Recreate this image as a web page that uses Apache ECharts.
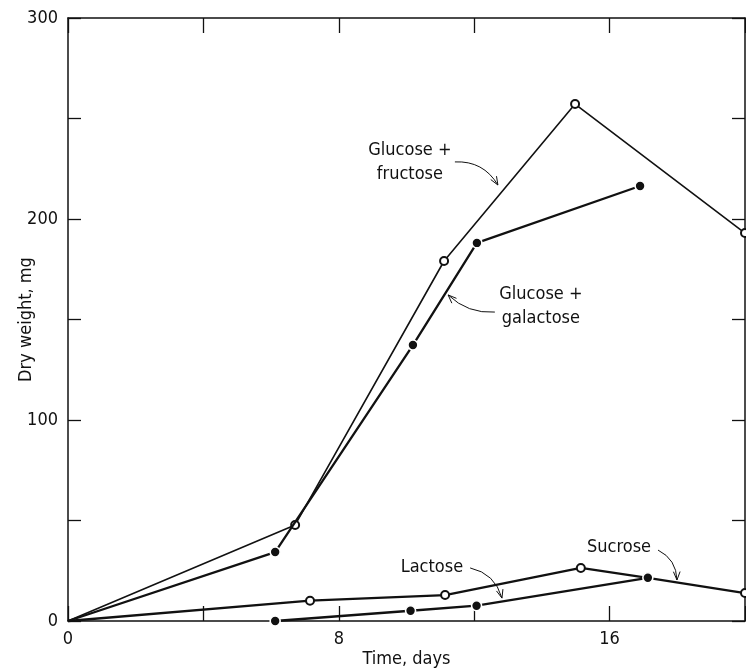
<!DOCTYPE html>
<html><head><meta charset="utf-8">
<script src="https://cdn.jsdelivr.net/npm/echarts@6/dist/echarts.min.js"></script>
<style>html,body{margin:0;padding:0;background:#fff}#c{width:746px;height:672px}</style>
</head><body><div id="c"></div>
<script>
// ---- data ----
const xTickLabels = [0, 8, 16];
const yTickLabels = [0, 100, 200, 300];
const fructose  = [[0,0],[6.71,47.8],[11.11,179.1],[14.98,257.2],[20,193.0]];
const galactose = [[0,0],[6.12,34.3],[10.19,137.3],[12.08,188.1],[16.9,216.4]];
const sucrose   = [[0,0],[7.15,10.1],[11.14,12.9],[15.15,26.4],[17.13,21.5],[20,13.9]];
const lactose   = [[6.12,0],[10.12,5.1],[12.07,7.6],[17.13,21.5]];
const labelNames = ['Glucose +\nfructose', 'Glucose +\ngalactose', 'Lactose', 'Sucrose'];
const labelAt    = [[10.1,228.4],[13.97,156.7],[10.75,26.9],[16.28,36.8]];
const arrowFrom  = [[11.43,228.4],[12.61,153.7],[11.88,26.4],[17.43,35.3]];
const arrowTo    = [[12.70,216.9],[11.23,162.2],[12.82,11.4],[17.99,20.4]];

// ---- styling ----
const INK = '#111';
const FONT = "'DejaVu Sans Condensed', 'Liberation Sans Narrow', 'DejaVu Sans', sans-serif";
const bends = [0.3, 0.22, 0.3, 0.3];

const chart = echarts.init(document.getElementById('c'), null, {renderer: 'canvas'});

function axisCommon(max, interval, tickLen) {
  return {
    type: 'value', min: 0, max: max, interval: interval,
    axisLine: {show: true, onZero: false, lineStyle: {color: INK, width: 1.5}},
    axisTick: {show: true, inside: true, length: tickLen, lineStyle: {color: INK, width: 1.3}},
    splitLine: {show: false}
  };
}

// the common origin point carries no marker in the reference
const noOriginMarker = arr => arr.map(p => (p[0] === 0 && p[1] === 0) ? {value: p, symbol: 'none'} : p);

const openSym = {symbol: 'emptyCircle', symbolSize: 8, itemStyle: {color: INK, borderColor: INK, borderWidth: 1.3}};
const fillSym = {symbol: 'circle', symbolSize: 10, itemStyle: {color: INK, borderColor: '#fff', borderWidth: 1.6}};

const arrowData = arrowFrom.map((p, i) => [p[0], p[1], arrowTo[i][0], arrowTo[i][1]]);

function renderArrow(params, api) {
  const i = params.dataIndex;
  const p0 = api.coord([api.value(0), api.value(1)]);
  const p1 = api.coord([api.value(2), api.value(3)]);
  const c = bends[i];
  const mx = (p0[0] + p1[0]) / 2, my = (p0[1] + p1[1]) / 2;
  const cp = [mx - (p0[1] - p1[1]) * c, my - (p1[0] - p0[0]) * c];
  const ang = Math.atan2(p1[1] - cp[1], p1[0] - cp[0]);
  const L = 9, spread = 0.38;
  const a1 = [p1[0] - L * Math.cos(ang - spread), p1[1] - L * Math.sin(ang - spread)];
  const a2 = [p1[0] - L * Math.cos(ang + spread), p1[1] - L * Math.sin(ang + spread)];
  return {
    type: 'group',
    children: [
      {type: 'bezierCurve', shape: {x1: p0[0], y1: p0[1], x2: p1[0], y2: p1[1], cpx1: cp[0], cpy1: cp[1]},
       style: {stroke: INK, lineWidth: 1, fill: null}},
      {type: 'polyline', shape: {points: [a1, p1, a2]}, style: {stroke: INK, lineWidth: 1, fill: null}}
    ]
  };
}

const option = {
  animation: false,
  backgroundColor: '#fff',
  grid: {left: 68, right: 1, top: 18, bottom: 51, containLabel: false, outerBoundsMode: 'none'},
  xAxis: [
    Object.assign(axisCommon(20, 4, 15), {
      position: 'bottom',
      axisLabel: {formatter: v => xTickLabels.includes(v) ? String(v) : '', margin: 9, fontSize: 18, color: INK, fontFamily: FONT},
      name: 'Time, days', nameLocation: 'middle', nameGap: 29, nameMoveOverlap: false,
      nameTextStyle: {fontSize: 18, color: INK, fontFamily: FONT}
    }),
    Object.assign(axisCommon(20, 4, 15), {position: 'top', axisLabel: {show: false}})
  ],
  yAxis: [
    Object.assign(axisCommon(300, 50, 13), {
      position: 'left',
      axisLabel: {formatter: v => yTickLabels.includes(v) ? String(v) : '', margin: 10, fontSize: 18, color: INK, fontFamily: FONT},
      name: 'Dry weight, mg', nameLocation: 'middle', nameGap: 33, nameRotate: 90, nameMoveOverlap: false,
      nameTextStyle: {fontSize: 18, color: INK, fontFamily: FONT}
    }),
    Object.assign(axisCommon(300, 50, 13), {position: 'right', axisLabel: {show: false}})
  ],
  series: [
    Object.assign({type: 'line', name: 'Glucose + fructose', data: noOriginMarker(fructose), z: 3,
      lineStyle: {color: INK, width: 1.6}, clip: false}, openSym),
    Object.assign({type: 'line', name: 'Glucose + galactose', data: noOriginMarker(galactose), z: 4,
      lineStyle: {color: INK, width: 2.3}, clip: false}, fillSym),
    Object.assign({type: 'line', name: 'Sucrose', data: noOriginMarker(sucrose), z: 3,
      lineStyle: {color: INK, width: 2.3}, clip: false}, openSym),
    Object.assign({type: 'line', name: 'Lactose', data: lactose, z: 5,
      lineStyle: {color: INK, width: 2.3}, clip: false}, fillSym),
    {
      type: 'custom', name: 'arrows', data: arrowData, renderItem: renderArrow,
      encode: {x: [0, 2], y: [1, 3]}, silent: true, clip: false, z: 6
    },
    {
      type: 'line', name: 'labels', data: [], silent: true, z: 6,
      markPoint: {
        silent: true, animation: false,
        symbol: 'circle', symbolSize: 1,
        itemStyle: {color: 'rgba(0,0,0,0)'},
        label: {show: true, position: 'inside', formatter: p => p.name, color: INK,
          fontSize: 18, lineHeight: 24, fontFamily: FONT, align: 'center', verticalAlign: 'middle'},
        data: labelAt.map((p, i) => ({name: labelNames[i], coord: p}))
      }
    }
  ]
};
chart.setOption(option);
</script>
</body></html>
